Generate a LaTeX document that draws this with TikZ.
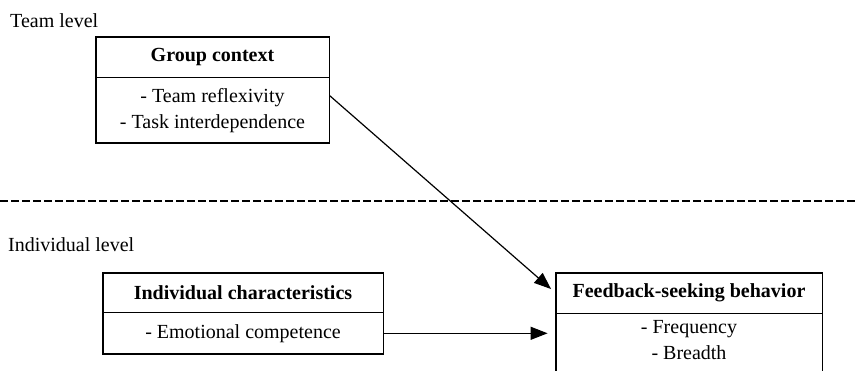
\documentclass[tikz,border=0pt]{standalone}
\usepackage{fontspec}
\setmainfont{Liberation Serif}
\usetikzlibrary{arrows.meta,positioning}

\begin{document}
\begin{tikzpicture}[
	x=1pt, y=-1pt,
	% Define the looks of the boxes, labels and arrows
	headbox/.style={draw, line width=0.8pt, inner sep=0pt, font=\fontsize{20}{26}\selectfont\bfseries},
	bodybox/.style={draw, line width=0.8pt, inner sep=0pt, align=center, font=\fontsize{20}{26}\selectfont},
	outline/.style={line width=1.6pt},
	levellabel/.style={anchor=base west, inner sep=0pt, font=\fontsize{20}{26}\selectfont},
	effect/.style={-{Triangle[length=17pt,width=13pt]}, line width=1.2pt, shorten >=6pt}
	]
	\useasboundingbox (0,0) rectangle (855,371);
	\clip (0,0) rectangle (855,371);
	\pgfmathsetmacro{\LevelLineY}{201}
	% level labels and the line between the levels
	\node[levellabel] (teamlbl) at (10,28) {Team level};
	\node[levellabel] (indivlbl) at (8,252) {Individual level};
	\draw[dash pattern=on 7.5pt off 3.5pt, line width=1.5pt] (0,\LevelLineY) -- (855,\LevelLineY);
	% group context
	\node[headbox, minimum width=233pt, minimum height=40pt] (gchead) at (212.5,57) {Group context};
	\node[bodybox, minimum width=233pt, minimum height=65pt, below=0pt of gchead] (gcbody) {- Team reflexivity\\- Task interdependence};
	\draw[outline] (gchead.north west) rectangle (gcbody.south east);
	% individual characteristics
	\node[headbox, minimum width=280pt, minimum height=39pt] (ichead) at (243,292.5) {Individual characteristics};
	\node[bodybox, minimum width=280pt, minimum height=41pt, below=0pt of ichead] (icbody) {- Emotional competence};
	\draw[outline] (ichead.north west) rectangle (icbody.south east);
	% feedback-seeking behavior
	\node[headbox, minimum width=266pt, minimum height=40pt] (fbhead) at (689,293) {Feedback-seeking behavior};
	\node[bodybox, minimum width=266pt, inner ysep=7pt, text depth=40pt, below=0pt of fbhead] (fbbody) {- Frequency\\- Breadth};
	\draw[outline] (fbhead.north west) rectangle (fbbody.south east);
	% effects
	\draw[effect] ([yshift=-18pt]gcbody.north east) -- (fbhead.west);
	\draw[effect, shorten >=8pt] (icbody.east) -- (icbody.east -| fbhead.west);
\end{tikzpicture}
\end{document}
